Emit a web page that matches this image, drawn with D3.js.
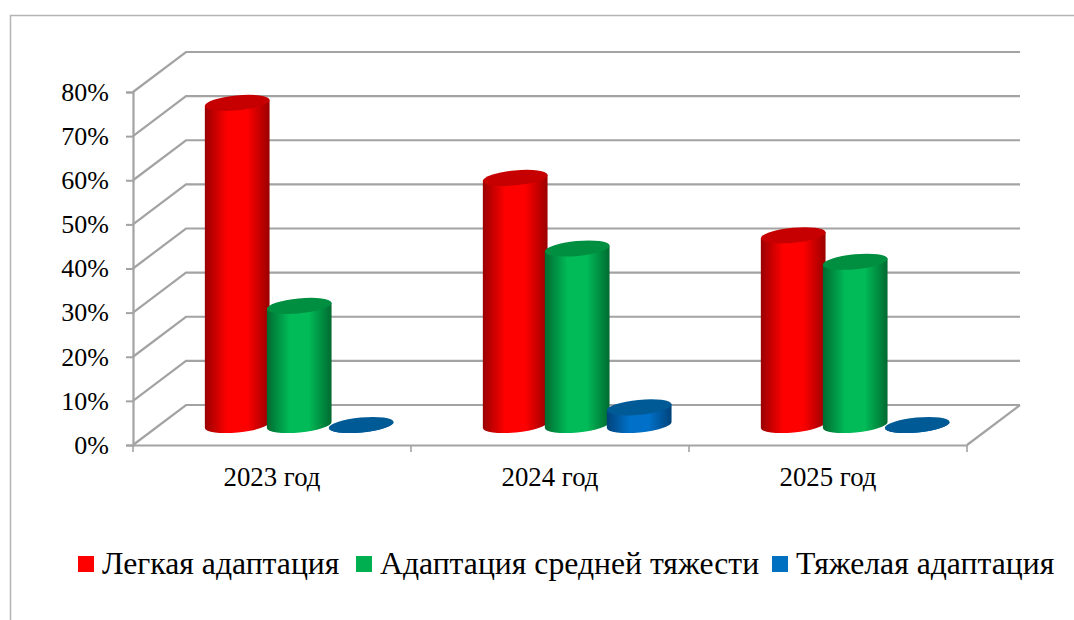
<!DOCTYPE html>
<html lang="ru">
<head>
<meta charset="utf-8" />
<title>Адаптация</title>
<script src="https://d3js.org/d3.v7.min.js"></script>
<style>
  html, body { margin: 0; padding: 0; background: #fff; overflow: hidden; }
  svg { display: block; }
  text { font-family: "Liberation Serif", serif; fill: #000; }
</style>
</head>
<body>
<div id="chart"></div>
<script>
const categories = ["2023 год", "2024 год", "2025 год"];
const seriesNames = ["Легкая адаптация", "Адаптация средней тяжести", "Тяжелая адаптация"];
const lightValues = [73, 56, 43];
const mediumValues = [27, 40, 37];
const heavyValues = [0, 4, 0];
const yTicks = [0, 10, 20, 30, 40, 50, 60, 70, 80];

const cW = 1074, cH = 620;
const cDepthX = 53, cDepthY = -40;
const cBarStep = 62, cRx = 32.5, cRy = 7.5, cTilt = -5.5;

// colours per series: fill, edge of the cylinder, top cap, legend swatch
const cColor = [
  { base: "#ff0000", edge: "#9a0000", top: "#c60000", key: "#ff0000" },
  { base: "#00bb58", edge: "#006a30", top: "#008f40", key: "#00b050" },
  { base: "#0070c8", edge: "#00437a", top: "#005a96", key: "#0070c0" },
];

const svg = d3.select("#chart").append("svg").attr("width", cW).attr("height", cH);

const xScale = d3.scaleBand().domain(categories).range([133, 967]);
const yScale = d3.scaleLinear().domain([0, 80]).range([445, 92]);
const barOffset = d3.scaleLinear().domain([0, 2]).range([-cBarStep, cBarStep]);
const cGray = "#a3a3a3";

// outer frame, cut by the page edges
svg.append("path")
  .attr("d", `M10.5,${cH} V15.5 H${cW}`)
  .attr("fill", "none")
  .attr("stroke", "#b4b4b4")
  .attr("stroke-width", 1.5);

const defs = svg.append("defs");
cColor.forEach((c, i) => {
  const g = defs.append("linearGradient").attr("id", "cyl" + i);
  [[0, c.edge], [0.35, c.base], [0.65, c.base], [1, c.edge]].forEach((s) => {
    g.append("stop").attr("offset", s[0]).attr("stop-color", s[1]);
  });
});

// wall gridlines
const x0 = xScale.range()[0], x1 = xScale.range()[1];
svg.append("g")
  .selectAll("path")
  .data(yTicks)
  .join("path")
  .attr("d", (d) => `M${x0},${yScale(d)} l${cDepthX},${cDepthY} H${x1 + cDepthX}`)
  .attr("fill", "none")
  .attr("stroke", cGray)
  .attr("stroke-width", 2.2);

// floor edge
svg.append("path")
  .attr("d", `M${x1},${yScale(0)} l${cDepthX},${cDepthY}`)
  .attr("stroke", cGray)
  .attr("stroke-width", 2.2);

// axes
const yAxis = d3.axisLeft(yScale).tickValues(yTicks).tickSize(7).tickPadding(17).tickFormat((d) => d + "%");
const yG = svg.append("g").attr("transform", `translate(${x0},0)`).call(yAxis);
const xAxis = d3.axisBottom(xScale).tickSize(0).tickPadding(22);
const xG = svg.append("g").attr("transform", `translate(0,${yScale(0)})`).call(xAxis);
[yG, xG].forEach((g) => {
  g.attr("font-family", null).attr("font-size", null);
  g.selectAll(".domain").attr("stroke", cGray).attr("stroke-width", 2.2);
  g.selectAll("line").attr("stroke", cGray).attr("stroke-width", 2);
});
yG.selectAll("text").style("font-size", "26px");
xG.selectAll("text").style("font-size", "26.8px");

// category separators on the x axis
svg.append("g")
  .selectAll("line")
  .data(categories.concat([null]))
  .join("line")
  .attr("x1", (d) => (d === null ? x1 : xScale(d)))
  .attr("x2", (d) => (d === null ? x1 : xScale(d)))
  .attr("y1", yScale(0))
  .attr("y2", yScale(0) + 7)
  .attr("stroke", cGray)
  .attr("stroke-width", 1.6);

// cylinders
const rad = (cTilt * Math.PI) / 180;
const dx = cRx * Math.cos(rad), dy = cRx * Math.sin(rad);
const bars = [];
categories.forEach((cat, i) => {
  [lightValues, mediumValues, heavyValues].forEach((values, s) => {
    bars.push({ cat: cat, s: s, v: values[i] });
  });
});
const barG = svg.append("g")
  .selectAll("g")
  .data(bars)
  .join("g")
  .attr("transform", (d) =>
    `translate(${xScale(d.cat) + xScale.bandwidth() / 2 + cDepthX / 2 + barOffset(d.s) + 0.7},${cDepthY / 2})`
  );
barG.append("path")
  .attr("d", (d) => {
    const b = yScale(0), t = yScale(d.v);
    return `M${-dx},${t - dy} L${-dx},${b - dy} A${cRx},${cRy} ${cTilt} 0 0 ${dx},${b + dy} L${dx},${t + dy} Z`;
  })
  .attr("fill", (d) => `url(#cyl${d.s})`);
barG.append("ellipse")
  .attr("rx", cRx)
  .attr("ry", cRy)
  .attr("transform", (d) => `translate(0,${yScale(d.v)}) rotate(${cTilt})`)
  .attr("fill", (d) => cColor[d.s].top);

// legend
const legendX = [78, 356, 772];
const legend = svg.append("g")
  .selectAll("g")
  .data(seriesNames)
  .join("g")
  .attr("transform", (d, i) => `translate(${legendX[i]},556)`);
legend.append("rect")
  .attr("width", 16)
  .attr("height", 16)
  .attr("fill", (d, i) => cColor[i].key);
legend.append("text")
  .attr("x", 24)
  .attr("y", 18)
  .style("font-size", "31.7px")
  .text((d) => d);
</script>
</body>
</html>
